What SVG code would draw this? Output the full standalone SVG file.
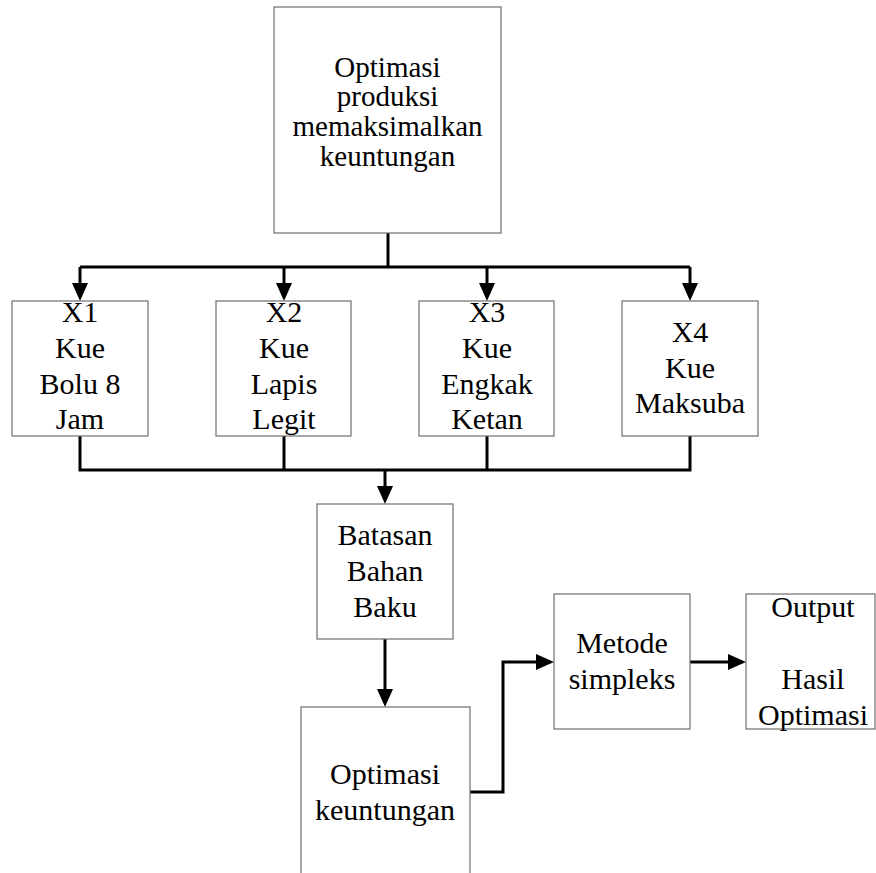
<svg xmlns="http://www.w3.org/2000/svg" width="876" height="873" viewBox="0 0 876 873">
  <defs>
    <marker id="arrow" markerUnits="userSpaceOnUse" markerWidth="18" markerHeight="16" refX="14" refY="8" orient="auto">
      <path d="M0,0 L18,8 L0,16 Z" fill="#000"/>
    </marker>
  </defs>
  <style>
    .box { fill: #fff; stroke: #6e6e6e; stroke-width: 1.2; }
    .lbl { font-family: "Liberation Serif", "Times New Roman", serif; font-size: 30px; fill: #000; text-anchor: middle; }
    .top { font-size: 29px; }
    .conn { fill: none; stroke: #000; stroke-width: 3; }
  </style>
  <rect width="876" height="873" fill="#fff"/>

  <g id="connectors">
    <path class="conn" d="M388,233 V267"/>
    <path class="conn" d="M80,267 H690"/>
    <path class="conn" d="M80,267 V297" marker-end="url(#arrow)"/>
    <path class="conn" d="M284,267 V297" marker-end="url(#arrow)"/>
    <path class="conn" d="M487,267 V297" marker-end="url(#arrow)"/>
    <path class="conn" d="M690,267 V297" marker-end="url(#arrow)"/>
    <path class="conn" d="M80,436 V470 H690 V436"/>
    <path class="conn" d="M284,436 V470"/>
    <path class="conn" d="M487,436 V470"/>
    <path class="conn" d="M385,470 V500" marker-end="url(#arrow)"/>
    <path class="conn" d="M385,639 V703" marker-end="url(#arrow)"/>
    <path class="conn" d="M470,792 H503 V662 H550" marker-end="url(#arrow)"/>
    <path class="conn" d="M690,662 H742" marker-end="url(#arrow)"/>
  </g>

  <g id="node-top">
    <rect class="box" x="274" y="7" width="227" height="226"/>
    <text class="lbl top" x="387.5" y="77">Optimasi</text>
    <text class="lbl top" x="387.5" y="106">produksi</text>
    <text class="lbl top" x="387.5" y="136">memaksimalkan</text>
    <text class="lbl top" x="387.5" y="166">keuntungan</text>
  </g>

  <g id="node-x1">
    <rect class="box" x="12" y="301" width="136" height="135"/>
    <text class="lbl" x="80" y="322">X1</text>
    <text class="lbl" x="80" y="358">Kue</text>
    <text class="lbl" x="80" y="394">Bolu 8</text>
    <text class="lbl" x="80" y="429">Jam</text>
  </g>

  <g id="node-x2">
    <rect class="box" x="216" y="301" width="135" height="135"/>
    <text class="lbl" x="284" y="322">X2</text>
    <text class="lbl" x="284" y="358">Kue</text>
    <text class="lbl" x="284" y="394">Lapis</text>
    <text class="lbl" x="284" y="429">Legit</text>
  </g>

  <g id="node-x3">
    <rect class="box" x="419" y="301" width="135" height="135"/>
    <text class="lbl" x="487" y="322">X3</text>
    <text class="lbl" x="487" y="358">Kue</text>
    <text class="lbl" x="487" y="394">Engkak</text>
    <text class="lbl" x="487" y="429">Ketan</text>
  </g>

  <g id="node-x4">
    <rect class="box" x="622" y="301" width="136" height="135"/>
    <text class="lbl" x="690" y="342">X4</text>
    <text class="lbl" x="690" y="378">Kue</text>
    <text class="lbl" x="690" y="413">Maksuba</text>
  </g>

  <g id="node-batasan">
    <rect class="box" x="317" y="504" width="136" height="135"/>
    <text class="lbl" x="385" y="545">Batasan</text>
    <text class="lbl" x="385" y="581">Bahan</text>
    <text class="lbl" x="385" y="617">Baku</text>
  </g>

  <g id="node-optimasi-keuntungan">
    <rect class="box" x="301" y="707" width="169" height="180"/>
    <text class="lbl" x="385" y="784">Optimasi</text>
    <text class="lbl" x="385" y="820">keuntungan</text>
  </g>

  <g id="node-metode">
    <rect class="box" x="554" y="594" width="136" height="135"/>
    <text class="lbl" x="622" y="653">Metode</text>
    <text class="lbl" x="622" y="689">simpleks</text>
  </g>

  <g id="node-output">
    <rect class="box" x="746" y="594" width="129" height="135"/>
    <text class="lbl" x="813" y="617">Output</text>
    <text class="lbl" x="813" y="689">Hasil</text>
    <text class="lbl" x="813" y="725">Optimasi</text>
  </g>
</svg>
